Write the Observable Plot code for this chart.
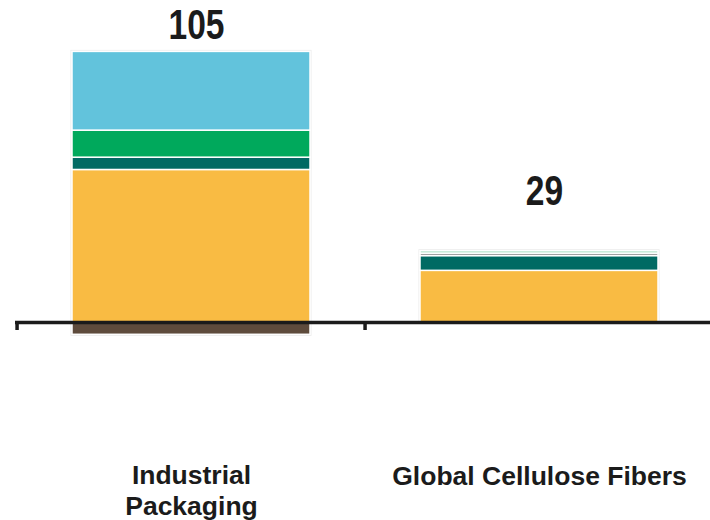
<!DOCTYPE html>
<html>
<head>
<meta charset="utf-8">
<script src="https://cdn.jsdelivr.net/npm/d3@7"></script>
<script src="https://cdn.jsdelivr.net/npm/@observablehq/plot@0.6"></script>
<style>
  body { margin: 0; background: #fff; }
</style>
</head>
<body>
<div id="chart"></div>
<script>
// Business segments along the x axis
const categories = ["Industrial Packaging", "Global Cellulose Fibers"];
const categoryLabels = ["Industrial\nPackaging", "Global Cellulose Fibers"];

// Stack layers, bottom to top (the last one stacks below zero)
const segments = ["Core", "Layer B", "Layer C", "Layer D", "Layer E", "Layer F", "Adjustment"];
const segmentColors = ["#f9bb43", "#006a63", "#8f8f8f", "#a6dec2", "#00a95c", "#62c3dc", "#5e4b3c"];

// Values per segment, in the order of `segments`
const industrialPackaging = [62, 5, 0, 0, 11, 32, -5];
const globalCelluloseFibers = [21, 6, 1, 1, 0, 0, 0];

const seriesValues = [industrialPackaging, globalCelluloseFibers];

const rows = categories.flatMap((category, i) =>
  seriesValues[i]
    .map((value, j) => ({category, segment: segments[j], value}))
    .filter(d => d.value !== 0)
);

const totals = categories.map((category, i) => {
  const vals = seriesValues[i];
  return {
    category,
    label: categoryLabels[i],
    net: d3.sum(vals),
    top: d3.sum(vals.filter(v => v > 0)),
    bottom: d3.sum(vals.filter(v => v < 0))
  };
});

const W = 710, H = 520;
const xRange = [16.5, 714.25];
const halfStep = (xRange[1] - xRange[0]) / categories.length / 2;
const barInset = 55;
const ink = "#1b1b1b";
const sans = "'Liberation Sans', Arial, Helvetica, sans-serif";

const totalStyle = {
  x: "category", y: "top", text: d => String(d.net),
  lineAnchor: "bottom", dx: 5,
  fontSize: 43, fontWeight: "bold", fontFamily: sans, fill: ink
};
const labelStyle = {
  x: "category", text: "label", frameAnchor: "bottom", lineAnchor: "bottom",
  lineHeight: 1.15, fontSize: 26.5, fontWeight: "bold", fontFamily: sans, fill: ink
};

const chart = Plot.plot({
  width: W,
  height: H,
  marginLeft: 15,
  marginRight: 0,
  marginTop: 0,
  marginBottom: 0,
  style: {background: "#fff"},
  x: {domain: categories, range: xRange, padding: 0, axis: null},
  y: {domain: [0, 100], range: [322, 76], axis: null},
  color: {domain: segments, range: segmentColors},
  marks: [
    // faint outline around each whole column
    Plot.barY(totals, {
      x: "category", y1: "bottom", y2: "top",
      fill: "none", stroke: "#ececec", strokeWidth: 3,
      insetLeft: barInset, insetRight: barInset
    }),
    Plot.barY(rows, {
      x: "category", y: "value", fill: "segment", order: null,
      stroke: "#fff", strokeWidth: 1.5,
      insetLeft: barInset, insetRight: barInset
    }),
    // zero baseline with tick marks at the band edges
    Plot.ruleY([0], {stroke: ink, strokeWidth: 3.5}),
    Plot.ruleX(categories, {
      x: d => d, y1: 0, y2: 0, insetBottom: -8, dx: -halfStep,
      stroke: ink, strokeWidth: 3.5
    }),
    // net totals above the columns
    Plot.text(totals.filter(d => d.category === categories[0]), {...totalStyle, dy: -13}),
    Plot.text(totals.filter(d => d.category === categories[1]), {...totalStyle, dy: -46}),
    // category names
    Plot.text(totals.filter(d => d.category === categories[0]), {...labelStyle, dy: -6}),
    Plot.text(totals.filter(d => d.category === categories[1]), {...labelStyle, dy: -36})
  ]
});

// condensed look for the numeric totals
chart.querySelectorAll("text").forEach(t => {
  if (!/^\d+$/.test(t.textContent.trim())) return;
  const tr = t.getAttribute("transform") || "";
  t.setAttribute("transform", (tr + " scale(0.78,1)").trim());
});

document.getElementById("chart").appendChild(chart);
</script>
</body>
</html>
